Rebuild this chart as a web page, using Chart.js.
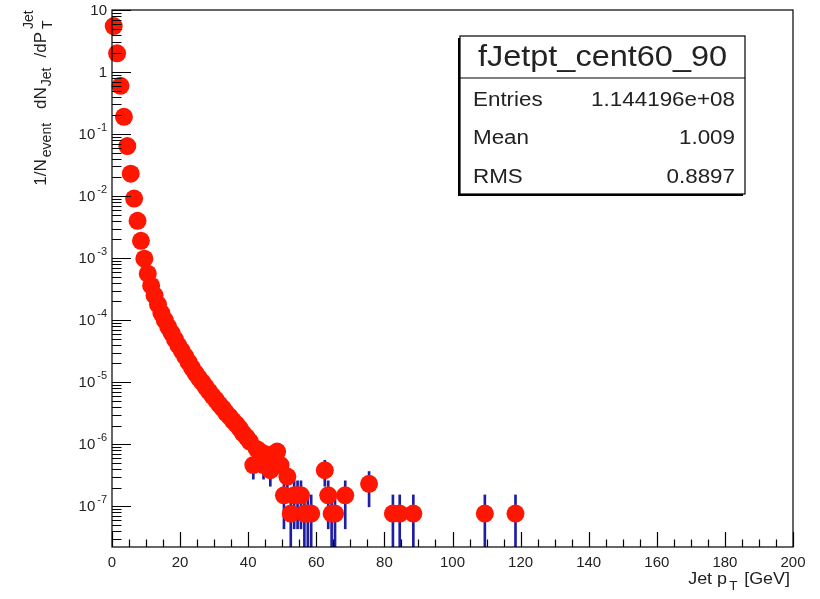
<!DOCTYPE html>
<html>
<head>
<meta charset="utf-8">
<script src="https://cdn.jsdelivr.net/npm/chart.js@4.4.0/dist/chart.umd.min.js"></script>
<style>
  html, body { margin: 0; padding: 0; background: #fff; }
</style>
</head>
<body>
<canvas id="jetChart" width="820" height="599"></canvas>
<script>
// jet pT spectrum, 1 GeV bins (bin centres in GeV)
const binCenters = [
  0.5, 1.5, 2.5, 3.5, 4.5, 5.5, 6.5, 7.5, 8.5, 9.5,
  10.5, 11.5, 12.5, 13.5, 14.5, 15.5, 16.5, 17.5, 18.5, 19.5,
  20.5, 21.5, 22.5, 23.5, 24.5, 25.5, 26.5, 27.5, 28.5, 29.5,
  30.5, 31.5, 32.5, 33.5, 34.5, 35.5, 36.5, 37.5, 38.5, 39.5,
  40.5, 41.5, 42.5, 43.5, 44.5, 45.5, 46.5, 47.5, 48.5, 49.5,
  50.5, 51.5, 52.5, 53.5, 54.5, 55.5, 56.5, 57.5, 58.5,
  62.5, 63.5, 64.5, 65.5, 68.5, 75.5,
  82.5, 84.5, 88.5, 109.5, 118.5
];
const yields = [
  5.5, 2.0, 0.6, 0.19, 0.064, 0.023, 0.0091, 0.0040, 0.0019, 0.00098,
  5.6e-4, 3.6e-4, 2.5e-4, 1.8e-4, 1.3e-4, 1.0e-4, 7.8e-5, 6.2e-5, 4.9e-5, 3.9e-5,
  3.2e-5, 2.6e-5, 2.1e-5, 1.7e-5, 1.4e-5, 1.17e-5, 1.0e-5, 8.4e-6, 7.1e-6, 6.0e-6,
  5.2e-6, 4.4e-6, 3.8e-6, 3.2e-6, 2.8e-6, 2.4e-6, 2.1e-6, 1.8e-6, 1.5e-6, 1.3e-6,
  1.1e-6, 4.6e-7, 8.4e-7, 7.6e-7, 4.6e-7, 6.8e-7, 3.8e-7, 6.1e-7, 7.6e-7, 4.6e-7,
  1.5e-7, 3.0e-7, 7.6e-8, 1.5e-7, 1.5e-7, 1.5e-7, 7.6e-8, 7.6e-8, 7.6e-8,
  3.8e-7, 1.5e-7, 7.6e-8, 7.6e-8, 1.5e-7, 2.3e-7,
  7.6e-8, 7.6e-8, 7.6e-8, 7.6e-8, 7.6e-8
];
const oneEntry = 7.6e-8; // height of a bin holding a single jet

const xTickValues = [0, 20, 40, 60, 80, 100, 120, 140, 160, 180, 200];
const yDecades = [1e-7, 1e-6, 1e-5, 1e-4, 1e-3, 1e-2, 1e-1, 1, 10];
const yDecadeExps = ["-7", "-6", "-5", "-4", "-3", "-2", "-1", "", ""];
const yDecadeBases = ["10", "10", "10", "10", "10", "10", "10", "1", "10"];

const statsTitle = "fJetpt_cent60_90";
const statsNames = ["Entries", "Mean", "RMS"];
const statsValues = ["1.144196e+08", "1.009", "0.8897"];

const FONT = "'Liberation Sans', Arial, Helvetica, sans-serif";
const TXT = "#222";

// poisson error bars, as ROOT draws them
const errBars = binCenters.map((x, i) => {
  const e = Math.sqrt(yields[i] * oneEntry);
  return { x: x, y: [Math.max(yields[i] - e, 1e-9), yields[i] + e] };
});

function richText(ctx, parts, xEnd, y) {
  // parts drawn left to right, right edge at xEnd
  let total = 0;
  parts.forEach(p => {
    ctx.font = p.size + "px " + FONT;
    p.w = (p.adv !== undefined ? p.adv : ctx.measureText(p.t).width) + (p.gap || 0);
    total += p.w;
  });
  let x = xEnd - total;
  parts.forEach(p => {
    ctx.font = p.size + "px " + FONT;
    ctx.fillText(p.t, x, y + (p.dy || 0));
    if (p.extra) {
      ctx.font = p.extra.size + "px " + FONT;
      ctx.fillText(p.extra.t, x, y + p.extra.dy);
    }
    x += p.w;
  });
}

const rootFrame = {
  id: "rootFrame",
  afterDatasetsDraw(chart) {
    const { ctx, chartArea: a, scales } = chart;
    const xs = scales.x, ys = scales.y;
    ctx.save();
    ctx.strokeStyle = "#000";
    ctx.lineWidth = 1.2;
    ctx.strokeRect(a.left, a.top, a.right - a.left, a.bottom - a.top);
    ctx.beginPath();
    // x ticks, pointing up into the frame
    for (let v = 0; v <= 200; v += 5) {
      const px = Math.round(xs.getPixelForValue(v)) + 0.5;
      const len = v % 20 === 0 ? 15 : 7.5;
      ctx.moveTo(px, a.bottom);
      ctx.lineTo(px, a.bottom - len);
    }
    // y ticks, log, pointing right into the frame
    for (let d = 1e-8; d <= 10; d *= 10) {
      for (let k = 1; k <= 9; k++) {
        const v = d * k;
        if (v < ys.min || v > ys.max) continue;
        const py = Math.round(ys.getPixelForValue(v)) + 0.5;
        const len = k === 1 ? 19 : 9.5;
        ctx.moveTo(a.left, py);
        ctx.lineTo(a.left + len, py);
      }
    }
    ctx.stroke();

    // y tick labels with raised exponents
    ctx.fillStyle = TXT;
    ctx.textBaseline = "middle";
    ctx.textAlign = "right";
    yDecades.forEach((v, i) => {
      const py = ys.getPixelForValue(v);
      let xr = a.left - 5;
      if (yDecadeExps[i]) {
        ctx.font = "11px " + FONT;
        ctx.fillText(yDecadeExps[i], xr, py - 6);
        xr -= ctx.measureText(yDecadeExps[i]).width + 2;
      }
      ctx.font = "15px " + FONT;
      ctx.fillText(yDecadeBases[i], xr, py + 1);
    });
    ctx.restore();
  },
  afterDraw(chart) {
    const { ctx, chartArea: a } = chart;
    ctx.save();
    ctx.fillStyle = TXT;
    ctx.textBaseline = "alphabetic";
    ctx.textAlign = "left";

    // x title, slightly widened like the stats text
    ctx.save();
    ctx.translate(a.right - 3, 584);
    ctx.scale(1.12, 1);
    richText(ctx, [
      { t: "Jet p", size: 16, gap: 2 },
      { t: "T", size: 12, dy: 6, gap: 6 },
      { t: "[GeV]", size: 16 }
    ], 0, 0);
    ctx.restore();

    // y title, rotated
    ctx.save();
    ctx.translate(46, 10);
    ctx.rotate(-Math.PI / 2);
    richText(ctx, [
      { t: "1/N", size: 17, gap: 2 },
      { t: "event", size: 14, dy: 5, gap: 14 },
      { t: "dN", size: 17, gap: 1 },
      { t: "Jet", size: 14, dy: 5, gap: 10 },
      { t: "/dP", size: 17, gap: 3 },
      { t: "T", size: 14, dy: 6, adv: 19, extra: { t: "Jet", size: 14, dy: -13 } }
    ], 0, 0);
    ctx.restore();

    // stats box
    const bx = 460, by = 36, bw = 285, bh = 158;
    ctx.fillStyle = "#000";
    ctx.fillRect(bx - 2, by + 2, bw, bh);
    ctx.fillStyle = "#fff";
    ctx.fillRect(bx, by, bw, bh);
    ctx.strokeStyle = "#000";
    ctx.lineWidth = 1.2;
    ctx.strokeRect(bx, by, bw, bh);
    ctx.beginPath();
    ctx.moveTo(bx, by + 42);
    ctx.lineTo(bx + bw, by + 42);
    ctx.stroke();

    ctx.fillStyle = TXT;
    const sx = 1.12;
    ctx.save();
    ctx.translate(bx + bw / 2, by + 30);
    ctx.scale(sx, 1);
    ctx.font = "29px " + FONT;
    ctx.textAlign = "center";
    ctx.fillText(statsTitle, 0, 0);
    ctx.restore();

    const rowBase = [106, 144, 183];
    statsNames.forEach((name, i) => {
      ctx.save();
      ctx.translate(bx + 13, rowBase[i]);
      ctx.scale(sx, 1);
      ctx.font = "20px " + FONT;
      ctx.textAlign = "left";
      ctx.fillText(name, 0, 0);
      ctx.restore();
      ctx.save();
      ctx.translate(bx + bw - 10, rowBase[i]);
      ctx.scale(sx, 1);
      ctx.font = "20px " + FONT;
      ctx.textAlign = "right";
      ctx.fillText(statsValues[i], 0, 0);
      ctx.restore();
    });
    ctx.restore();
  }
};

new Chart(document.getElementById("jetChart").getContext("2d"), {
  type: "scatter",
  data: {
    datasets: [
      {
        type: "scatter",
        data: binCenters.map((x, i) => ({ x: x, y: yields[i] })),
        backgroundColor: "rgb(255,22,0)",
        borderWidth: 0,
        pointRadius: 9,
        pointHoverRadius: 9,
        clip: false,
        order: 0
      },
      {
        type: "bar",
        data: errBars,
        backgroundColor: "#1d1da6",
        barThickness: 2,
        order: 1
      }
    ]
  },
  options: {
    responsive: false,
    animation: false,
    devicePixelRatio: 1,
    layout: { padding: { top: 10, right: 27, left: 0, bottom: 0 } },
    plugins: { legend: { display: false }, tooltip: { enabled: false } },
    scales: {
      x: {
        type: "linear",
        min: 0,
        max: 200,
        offset: false,
        afterBuildTicks: s => { s.ticks = xTickValues.map(v => ({ value: v })); },
        afterFit: s => { s.height = 52; },
        grid: { display: false, drawTicks: false, offset: false },
        border: { display: false },
        ticks: { font: { family: FONT, size: 15 }, color: TXT, padding: 7, maxRotation: 0, autoSkip: false }
      },
      y: {
        type: "logarithmic",
        min: 2.2e-8,
        max: 10,
        afterBuildTicks: s => { s.ticks = yDecades.map(v => ({ value: v })); },
        afterFit: s => { s.width = 112; },
        grid: { display: false, drawTicks: false },
        border: { display: false },
        ticks: { display: false }
      }
    }
  },
  plugins: [rootFrame]
});
</script>
</body>
</html>
